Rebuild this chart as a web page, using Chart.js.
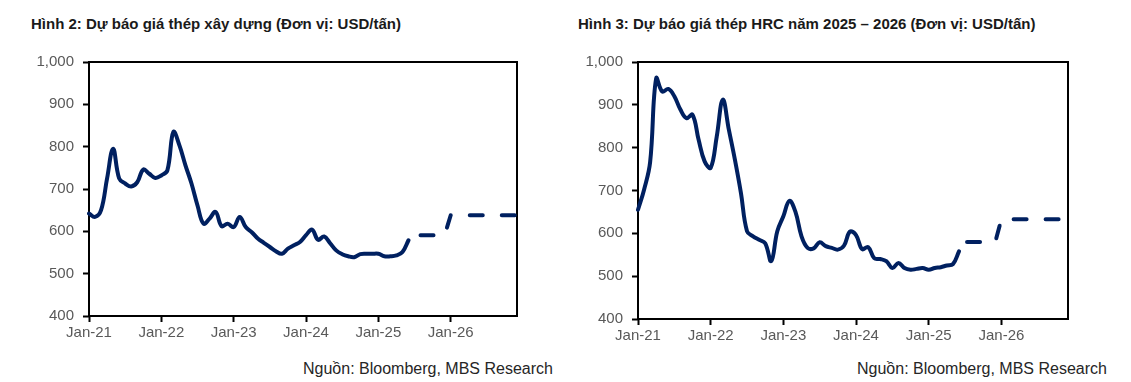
<!DOCTYPE html>
<html><head><meta charset="utf-8">
<script src="https://cdn.jsdelivr.net/npm/chart.js@4.4.1/dist/chart.umd.min.js"></script>
<style>
html,body{margin:0;padding:0;background:#fff;width:1131px;height:382px;overflow:hidden;font-family:"Liberation Sans",Arial,sans-serif;}
.title{position:absolute;font-weight:bold;font-size:15px;line-height:15px;color:#1a1a1a;white-space:nowrap;}
.src{position:absolute;font-size:16px;line-height:16px;color:#262626;white-space:nowrap;}
.box{position:absolute;}
</style></head><body>
<div class="title" style="left:31px;top:16px">Hình 2: Dự báo giá thép xây dựng (Đơn vị: USD/tấn)</div>
<div class="title" style="left:578px;top:16px">Hình 3: Dự báo giá thép HRC năm 2025 – 2026 (Đơn vị: USD/tấn)</div>
<div class="box" style="left:20px;top:50px;width:510px;height:300px"><canvas id="c1"></canvas></div>
<div class="box" style="left:570px;top:50px;width:510px;height:305px"><canvas id="c2"></canvas></div>
<div class="src" style="left:303px;top:361px">Nguồn: Bloomberg, MBS Research</div>
<div class="src" style="left:857px;top:361px">Nguồn: Bloomberg, MBS Research</div>
<script>
const categories = [
 'Jan-21','Feb-21','Mar-21','Apr-21','May-21','Jun-21','Jul-21','Aug-21','Sep-21','Oct-21','Nov-21','Dec-21',
 'Jan-22','Feb-22','Mar-22','Apr-22','May-22','Jun-22','Jul-22','Aug-22','Sep-22','Oct-22','Nov-22','Dec-22',
 'Jan-23','Feb-23','Mar-23','Apr-23','May-23','Jun-23','Jul-23','Aug-23','Sep-23','Oct-23','Nov-23','Dec-23',
 'Jan-24','Feb-24','Mar-24','Apr-24','May-24','Jun-24','Jul-24','Aug-24','Sep-24','Oct-24','Nov-24','Dec-24',
 'Jan-25','Feb-25','Mar-25','Apr-25','May-25','Jun-25','Jul-25','Aug-25','Sep-25','Oct-25','Nov-25','Dec-25',
 'Jan-26','Feb-26','Mar-26','Apr-26','May-26','Jun-26','Jul-26','Aug-26','Sep-26','Oct-26','Nov-26','Dec-26'
];
const xTickLabels = ['Jan-21','Jan-22','Jan-23','Jan-24','Jan-25','Jan-26'];
const yTickValues = [400,500,600,700,800,900,1000];

// Hình 2: construction steel, actual (Jan-21 .. Jun-25)
const rebarActual = [
 642,634,650,725,795,725,713,706,716,746,736,726,
 732,744,835,803,756,713,661,618,630,646,612,618,
 610,634,610,598,583,573,563,553,547,559,567,575,
 591,604,580,588,572,555,546,541,539,546,547,547,
 547,541,541,543,551,579
];
// forecast (Jul-25 .. Dec-26)
const rebarForecast = [591,591,591,591,591,591,638,638,638,638,638,638,638,638,638,638,638,638];

// Hình 3: HRC, actual (Jan-21 .. Jun-25)
const hrcActual = [
 655,702,766,962,931,937,920,889,869,877,819,768,
 753,826,912,842,772,694,605,593,585,577,535,605,
 640,676,650,593,566,565,579,570,566,562,571,604,
 596,563,568,542,540,535,519,531,519,515,517,519,
 515,519,521,525,528,558
];
const hrcForecast = [580,580,580,580,580,580,633,633,633,633,633,633,633,633,633,633,633,633];

const NAVY = '#002060';
const TICK_COLOR = '#595959';
const FONT = {family:'"Liberation Sans", Arial, sans-serif', size:15};

const frame = {
  id:'frame',
  beforeDatasetsDraw(chart){
    const {ctx, chartArea:a} = chart;
    ctx.save();
    ctx.strokeStyle = '#000';
    ctx.lineWidth = 2;
    ctx.strokeRect(a.left, a.top, a.right - a.left, a.bottom - a.top);
    ctx.restore();
  }
};

function makeChart(id, actual, forecast, dashOffset, yWidth, xHeight, pad){
  const forecastData = new Array(actual.length).fill(null).concat(forecast);
  return new Chart(document.getElementById(id), {
    type:'line',
    data:{
      labels: categories,
      datasets:[
        {data: actual, borderColor: NAVY, borderWidth: 4, pointRadius: 0, tension: 0.4,
         borderCapStyle:'round', borderJoinStyle:'round', fill:false},
        {data: forecastData, borderColor: NAVY, borderWidth: 4, pointRadius: 0, tension: 0,
         borderDash:[13,19], borderDashOffset: dashOffset, borderCapStyle:'round',
         borderJoinStyle:'round', fill:false, spanGaps:false}
      ]
    },
    options:{
      responsive:true, maintainAspectRatio:false, animation:false,
      layout:{padding:pad},
      plugins:{legend:{display:false}, tooltip:{enabled:false}},
      scales:{
        x:{
          type:'category', offset:false,
          border:{display:false},
          grid:{display:true, drawOnChartArea:false, drawTicks:true, tickLength:6, tickWidth:2,
                tickColor:(c)=> (c.tick && xTickLabels.includes(c.tick.label)) ? '#000' : 'rgba(0,0,0,0)'},
          ticks:{autoSkip:false, maxRotation:0, minRotation:0, padding:2, color:TICK_COLOR, font:FONT,
                 callback:(v,i)=> xTickLabels.includes(categories[i]) ? categories[i] : ''},
          afterFit:(s)=>{ s.height = xHeight; s.paddingLeft = 0; s.paddingRight = 0; s.paddingTop = 0; s.paddingBottom = 0; }
        },
        y:{
          min:400, max:1000,
          border:{display:false},
          grid:{display:true, drawOnChartArea:false, drawTicks:true, tickLength:6, tickWidth:2, tickColor:'#000'},
          afterBuildTicks:(s)=>{ s.ticks = yTickValues.map(v=>({value:v})); },
          ticks:{padding:9, color:TICK_COLOR, font:FONT,
                 callback:(v)=> Number(v).toLocaleString('en-US')},
          afterFit:(s)=>{ s.width = yWidth; s.paddingTop = 0; s.paddingBottom = 0; s.paddingLeft = 0; s.paddingRight = 0; }
        }
      }
    },
    plugins:[frame]
  });
}

makeChart('c1', rebarActual, rebarForecast, 26, 69, 34, {top:12, right:13, left:0, bottom:0});
makeChart('c2', hrcActual, hrcForecast, 30, 68, 36, {top:12, right:12, left:0, bottom:0});
</script>
</body></html>
